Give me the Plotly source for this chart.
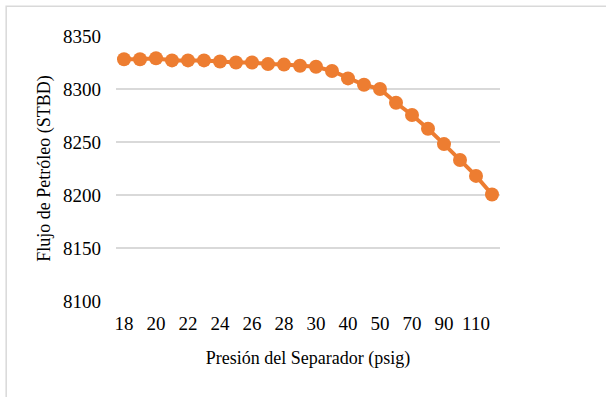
import plotly.graph_objects as go

presion = ["18", "19", "20", "21", "22", "23", "24", "25", "26", "27", "28", "29", "30",
           "35", "40", "45", "50", "60", "70", "80", "90", "100", "110", "120"]
flujo = [8328, 8328, 8329, 8327, 8327, 8327, 8326, 8325, 8325, 8323.5, 8323, 8322, 8321,
         8317, 8310, 8304, 8300, 8287, 8275.5, 8262.5, 8248, 8233, 8218, 8200.5]
tick_labels = presion[::2]
y_ticks = [8100, 8150, 8200, 8250, 8300, 8350]

color = "#ED7D31"
ff = "Liberation Serif"

fig = go.Figure()
fig.add_trace(go.Scatter(
    x=presion, y=flujo, mode="lines+markers",
    line=dict(color=color, width=4),
    marker=dict(color=color, size=14),
    cliponaxis=False,
))

fig.update_layout(
    width=606, height=397,
    margin=dict(l=116, r=106, t=36, b=96, autoexpand=False),
    paper_bgcolor="white", plot_bgcolor="white",
    showlegend=False,
    font=dict(family=ff, color="#000000", size=18),
    xaxis=dict(
        type="category", range=[-0.5, len(presion) - 0.5],
        tickmode="array", tickvals=tick_labels, ticktext=tick_labels,
        showgrid=False, zeroline=False, showline=False, ticks="",
        tickfont=dict(family=ff, size=19, color="#000000"), ticklabelstandoff=9,
        title=dict(text="Presión del Separador (psig)", font=dict(family=ff, size=18, color="#000000"), standoff=18),
    ),
    yaxis=dict(
        range=[8100, 8350], tickvals=y_ticks,
        showgrid=True, gridcolor="#D9D9D9", gridwidth=1.5,
        zeroline=False, showline=False, ticks="",
        tickfont=dict(family=ff, size=19, color="#000000"), ticklabelstandoff=14,
        title=dict(text="Flujo de Petróleo (STBD)", font=dict(family=ff, size=18, color="#000000"), standoff=7),
    ),
    shapes=[dict(type="rect", xref="paper", yref="paper", x0=-0.286, x1=1.3, y0=-0.5, y1=1.112,
                 line=dict(color="#D9D9D9", width=1.5), fillcolor="rgba(0,0,0,0)", layer="below")],
)

fig.write_html("out.html")
